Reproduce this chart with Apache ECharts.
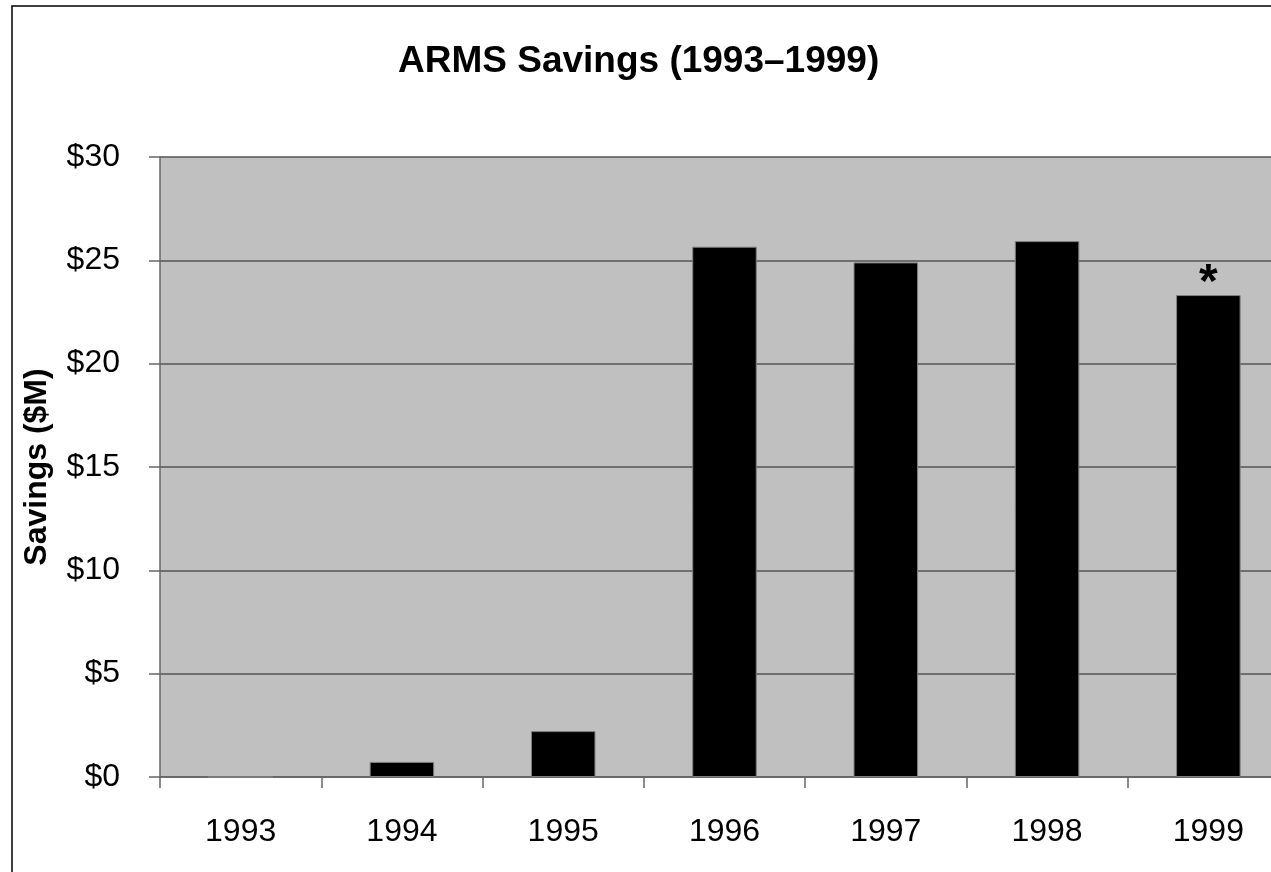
<!DOCTYPE html>
<html>
<head>
<meta charset="utf-8">
<script src="https://cdn.jsdelivr.net/npm/echarts@6/dist/echarts.min.js"></script>
<style>
  html, body { margin: 0; padding: 0; background: #ffffff; overflow: hidden; width: 1271px; height: 872px; }
  #chart { width: 1289px; height: 872px; }
</style>
</head>
<body>
<div id="chart"></div>
<script>
const categories = ['1993', '1994', '1995', '1996', '1997', '1998', '1999'];
const savings = [0, 0.73, 2.22, 25.66, 24.9, 25.93, 23.32];
const annotations = ['', '', '', '', '', '', '*'];
const yTicks = [0, 5, 10, 15, 20, 25, 30];

const FONT = '"Liberation Sans", Arial, Helvetica, sans-serif';

const chart = echarts.init(document.getElementById('chart'), null, { renderer: 'canvas' });
chart.setOption({
  backgroundColor: '#ffffff',
  animation: false,
  title: {
    text: 'ARMS Savings (1993\u20131999)',
    left: 393,
    top: 38,
    textStyle: { fontFamily: FONT, fontSize: 37, fontWeight: 'bold', color: '#000' }
  },
  graphic: [{
    type: 'rect',
    silent: true,
    shape: { x: 12, y: 6, width: 1320, height: 900 },
    style: { fill: null, stroke: '#000', lineWidth: 1.5 }
  }],
  grid: {
    left: 160, top: 157, bottom: 95, right: 0,
    show: true, backgroundColor: '#c0c0c0', borderWidth: 0
  },
  xAxis: {
    type: 'category',
    data: categories,
    axisLine: { show: true, lineStyle: { color: '#666', width: 1.5 } },
    axisTick: { show: true, length: 11, lineStyle: { color: '#666', width: 1.5 } },
    axisLabel: { fontFamily: FONT, fontSize: 32, color: '#000', margin: 39 }
  },
  yAxis: {
    type: 'value',
    min: yTicks[0], max: yTicks[yTicks.length - 1], interval: 5,
    name: 'Savings ($M)',
    nameLocation: 'middle',
    nameGap: 107,
    nameRotate: 90,
    nameTextStyle: { fontFamily: FONT, fontSize: 32, fontWeight: 'bold', color: '#000' },
    axisLine: { show: true, lineStyle: { color: '#666', width: 1.5 } },
    axisTick: { show: true, length: 11, lineStyle: { color: '#666', width: 1.5 } },
    splitLine: { show: true, lineStyle: { color: '#555', width: 1.5 } },
    axisLabel: {
      fontFamily: FONT, fontSize: 32, color: '#000', margin: 40,
      formatter: v => '$' + v
    }
  },
  series: [{
    type: 'bar',
    data: savings,
    barWidth: '40%',
    itemStyle: { color: '#000', borderColor: '#808080', borderWidth: 1 },
    label: {
      show: true,
      position: 'top',
      distance: 0,
      offset: [0, 13],
      fontFamily: FONT, fontSize: 48, fontWeight: 'bold', color: '#000',
      formatter: p => annotations[p.dataIndex]
    }
  }]
});
</script>
</body>
</html>
